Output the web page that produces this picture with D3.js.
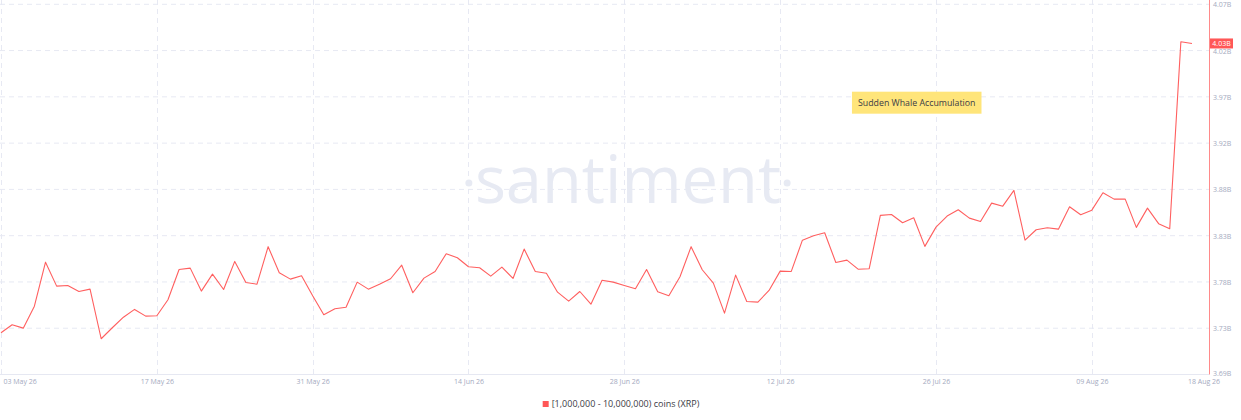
<!DOCTYPE html>
<html>
<head>
<meta charset="utf-8">
<script src="https://cdn.jsdelivr.net/npm/d3@7/dist/d3.min.js"></script>
<style>
  html, body { margin: 0; padding: 0; background: #ffffff; }
  svg { display: block; }
</style>
</head>
<body>
<svg id="chart" width="1241" height="420"></svg>
<script>
// ---- data ----
const startDate = "2026-05-03";
const values = [
  3.7288, 3.7370, 3.7336, 3.7561, 3.8013, 3.7767, 3.7774, 3.7712, 3.7736, 3.7227,
  3.7340, 3.7448, 3.7528, 3.7459, 3.7463, 3.7627, 3.7938, 3.7952, 3.7716, 3.7890,
  3.7733, 3.8021, 3.7805, 3.7787, 3.8172, 3.7904, 3.7839, 3.7874, 3.7668, 3.7473,
  3.7535, 3.7551, 3.7808, 3.7736, 3.7787, 3.7843, 3.7982, 3.7699, 3.7849, 3.7918,
  3.8100, 3.8058, 3.7966, 3.7956, 3.7870, 3.7962, 3.7846, 3.8147, 3.7918, 3.7900,
  3.7705, 3.7613, 3.7712, 3.7582, 3.7828, 3.7808, 3.7774, 3.7740, 3.7938, 3.7709,
  3.7668, 3.7863, 3.8172, 3.7935, 3.7798, 3.7490, 3.7880, 3.7610, 3.7603, 3.7723,
  3.7921, 3.7918, 3.8239, 3.8284, 3.8315, 3.8010, 3.8034, 3.7941, 3.7946, 3.8493,
  3.8503, 3.8418, 3.8469, 3.8175, 3.8373, 3.8486, 3.8551, 3.8465, 3.8431, 3.8619,
  3.8588, 3.8750, 3.8239, 3.8346, 3.8367, 3.8352, 3.8582, 3.8500, 3.8547, 3.8726,
  3.8660, 3.8660, 3.8370, 3.8568, 3.8408, 3.8356, 4.0275, 4.0258
];
const yTicks = [3.686, 3.7335, 3.781, 3.8285, 3.876, 3.9235, 3.971, 4.0185, 4.066];
const xTickDates = ["2026-05-03", "2026-05-17", "2026-05-31", "2026-06-14", "2026-06-28", "2026-07-12", "2026-07-26", "2026-08-09"];
const endLabelDate = "2026-08-18";
const seriesName = "[1,000,000 - 10,000,000) coins (XRP)";
const annotationText = "Sudden Whale Accumulation";
const annotationDate = "2026-07-24";
const annotationValue = 3.965;
const watermark = "santiment";

// ---- setup ----
const parse = d3.utcParse("%Y-%m-%d");
const fmt = d3.utcFormat("%d %b %y");
const start = parse(startDate);
const data = values.map((v, i) => ({ date: d3.utcDay.offset(start, i), value: v }));

const svg = d3.select("#chart");
const W = 1241, H = 420;
const plotRight = 1209, plotTop = 4.3, plotBottom = 374.5;

const x = d3.scaleUtc()
  .domain([data[0].date, data[data.length - 1].date])
  .range([1, 1192]);
const y = d3.scaleLinear()
  .domain([yTicks[0], yTicks[yTicks.length - 1]])
  .range([plotBottom, plotTop]);

const gridColor = "#e7e9f3";
const tickColor = "#a4aac0";
const font = "'Open Sans', 'DejaVu Sans', sans-serif";

// horizontal grid
svg.append("g")
  .selectAll("line")
  .data(yTicks.slice(1))
  .join("line")
  .attr("x1", 0).attr("x2", plotRight)
  .attr("y1", d => y(d)).attr("y2", d => y(d))
  .attr("stroke", gridColor)
  .attr("stroke-width", 1)
  .attr("stroke-dasharray", "5,4");

// vertical grid
const xTicks = xTickDates.map(parse);
svg.append("g")
  .selectAll("line")
  .data(xTicks)
  .join("line")
  .attr("x1", d => Math.round(x(d)) + 0.5).attr("x2", d => Math.round(x(d)) + 0.5)
  .attr("y1", 0).attr("y2", plotBottom)
  .attr("stroke", gridColor)
  .attr("stroke-width", 1)
  .attr("stroke-dasharray", "5,4");

// watermark
const wm = svg.append("g").attr("fill", "#e7eaf3");
const wmText = wm.append("text")
  .attr("x", 628).attr("y", 203)
  .attr("text-anchor", "middle")
  .attr("font-family", font)
  .attr("font-weight", 400)
  .attr("font-size", 65)
  .text(watermark);
const wb = wmText.node().getBBox();
wm.append("circle").attr("cx", wb.x - 6).attr("cy", 183).attr("r", 3.5);
wm.append("circle").attr("cx", wb.x + wb.width + 6).attr("cy", 183).attr("r", 3.5);

// x axis baseline
svg.append("line")
  .attr("x1", 0).attr("x2", plotRight)
  .attr("y1", plotBottom).attr("y2", plotBottom)
  .attr("stroke", "#e6e8f2").attr("stroke-width", 1);

// x axis labels
const xAxis = d3.axisBottom(x).tickValues(xTicks).tickFormat(fmt).tickSize(0).tickPadding(0);
const gx = svg.append("g").attr("transform", `translate(0,${plotBottom})`).call(xAxis);
gx.select(".domain").remove();
gx.selectAll("text")
  .attr("y", 9)
  .attr("dy", 0)
  .attr("fill", tickColor)
  .attr("font-family", font)
  .attr("font-size", 7);
gx.selectAll(".tick").filter((d, i) => i === 0).select("text").attr("text-anchor", "start").attr("x", 2);
svg.append("text")
  .attr("x", x(parse(endLabelDate)) + 12)
  .attr("y", plotBottom + 9.5)
  .attr("text-anchor", "middle")
  .attr("fill", tickColor)
  .attr("font-family", font)
  .attr("font-size", 7)
  .text(fmt(parse(endLabelDate)));

// y axis (right)
const yAxis = d3.axisRight(y).tickValues(yTicks).tickFormat(d => d.toFixed(2) + "B").tickSize(0).tickPadding(4);
const gy = svg.append("g").attr("transform", `translate(${plotRight},0)`).call(yAxis);
gy.select(".domain").remove();
gy.selectAll("text")
  .attr("fill", tickColor)
  .attr("font-family", font)
  .attr("font-size", 7)
  .attr("dy", "0.35em");
gy.selectAll(".tick").filter((d, i) => i === 0).select("text").attr("dy", "0.1em");
svg.append("line")
  .attr("x1", plotRight + 0.5).attr("x2", plotRight + 0.5)
  .attr("y1", 0).attr("y2", plotBottom)
  .attr("stroke", "#ff8a8a").attr("stroke-width", 1);

// line
const lineColor = "#ff5f5f";
svg.append("path")
  .datum(data)
  .attr("fill", "none")
  .attr("stroke", lineColor)
  .attr("stroke-width", 1.1)
  .attr("stroke-linejoin", "round")
  .attr("d", d3.line().x(d => x(d.date)).y(d => y(d.value)));

// last value label
const last = data[data.length - 1];
const lg = svg.append("g").attr("transform", `translate(${plotRight + 1},${y(last.value)})`);
lg.append("rect").attr("x", 0).attr("y", -5).attr("width", 23).attr("height", 10).attr("fill", "#ff5757");
lg.append("text")
  .attr("x", 11.5).attr("y", 0).attr("dy", "0.35em")
  .attr("text-anchor", "middle")
  .attr("fill", "#ffffff")
  .attr("font-family", font)
  .attr("font-size", 7)
  .text(last.value.toFixed(2) + "B");

// annotation
const ax = x(parse(annotationDate)) + 3, ay = y(annotationValue);
const ag = svg.append("g").attr("transform", `translate(${ax},${ay})`);
const at = ag.append("text")
  .attr("x", 0).attr("y", 0).attr("dy", "0.35em")
  .attr("text-anchor", "middle")
  .attr("fill", "#3b3b45")
  .attr("font-family", font)
  .attr("font-size", 8.8)
  .text(annotationText);
const bb = at.node().getBBox();
ag.insert("rect", "text")
  .attr("x", bb.x - 6).attr("y", -11)
  .attr("width", bb.width + 12).attr("height", 22)
  .attr("fill", "#ffe57a");

// legend
const legendG = svg.append("g");
const lt = legendG.append("text")
  .attr("x", 0).attr("y", 404).attr("dy", "0.35em")
  .attr("fill", "#3b3b45")
  .attr("font-family", font)
  .attr("font-size", 9)
  .text(seriesName);
const lw = lt.node().getComputedTextLength();
legendG.append("rect").attr("x", -9).attr("y", 401).attr("width", 6).attr("height", 6).attr("fill", "#ff5757");
legendG.attr("transform", `translate(${(W - lw) / 2 + 5},0)`);
</script>
</body>
</html>
